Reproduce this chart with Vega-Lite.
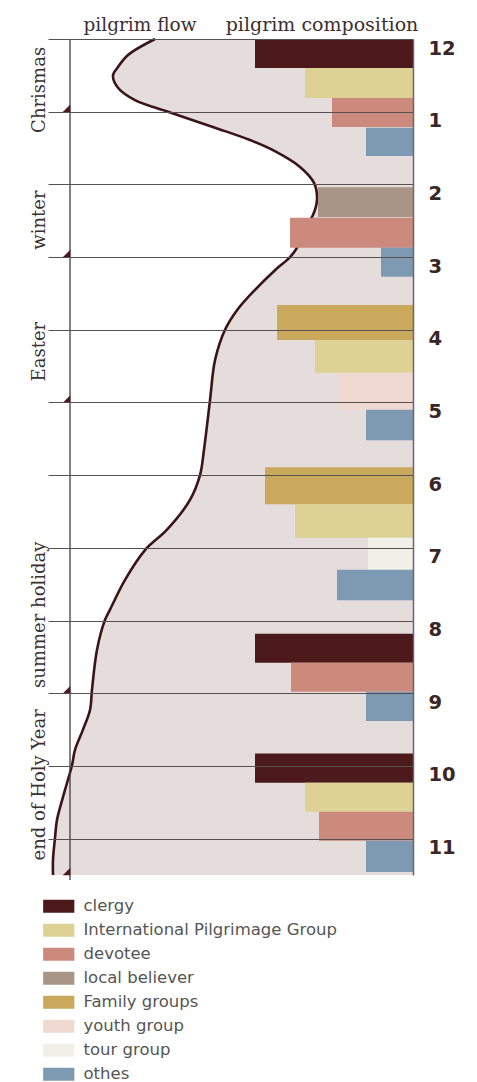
{
  "$schema": "https://vega.github.io/schema/vega-lite/v6.json",
  "width": 365,
  "height": 836,
  "autosize": {"type": "none"},
  "padding": {"left": 48, "top": 39, "right": 64, "bottom": 207},
  "background": "white",
  "config": {"view": {"stroke": null}},
  "datasets": {
    "flow": [
      {"month": 0, "flow": 258}, {"month": 0.22, "flow": 285}, {"month": 0.385, "flow": 295},
      {"month": 0.5, "flow": 300}, {"month": 0.67, "flow": 295}, {"month": 0.84, "flow": 278},
      {"month": 1.0, "flow": 245}, {"month": 1.22, "flow": 198}, {"month": 1.39, "flow": 163},
      {"month": 1.53, "flow": 140}, {"month": 1.76, "flow": 113}, {"month": 1.98, "flow": 99},
      {"month": 2.21, "flow": 96}, {"month": 2.42, "flow": 100}, {"month": 2.63, "flow": 110},
      {"month": 2.87, "flow": 116}, {"month": 3.0, "flow": 123}, {"month": 3.18, "flow": 138},
      {"month": 3.45, "flow": 158}, {"month": 3.73, "flow": 176}, {"month": 4.0, "flow": 188},
      {"month": 4.42, "flow": 198}, {"month": 4.97, "flow": 203}, {"month": 5.65, "flow": 209},
      {"month": 6.0, "flow": 213}, {"month": 6.34, "flow": 223}, {"month": 6.75, "flow": 246},
      {"month": 7.03, "flow": 268}, {"month": 7.44, "flow": 288}, {"month": 7.85, "flow": 303},
      {"month": 7.99, "flow": 308}, {"month": 8.4, "flow": 316}, {"month": 8.95, "flow": 321},
      {"month": 9.23, "flow": 323}, {"month": 9.5, "flow": 330}, {"month": 9.78, "flow": 338},
      {"month": 9.99, "flow": 341}, {"month": 10.33, "flow": 348}, {"month": 10.74, "flow": 356},
      {"month": 10.99, "flow": 358}, {"month": 11.29, "flow": 360}, {"month": 11.5, "flow": 360}
    ],
    "bars": [
      {"group": "clergy", "from": 0.0, "to": 0.40, "value": 158},
      {"group": "International Pilgrimage Group", "from": 0.40, "to": 0.81, "value": 108},
      {"group": "devotee", "from": 0.81, "to": 1.21, "value": 81},
      {"group": "othes", "from": 1.22, "to": 1.61, "value": 47},
      {"group": "local believer", "from": 2.04, "to": 2.45, "value": 95},
      {"group": "devotee", "from": 2.46, "to": 2.87, "value": 123},
      {"group": "othes", "from": 2.87, "to": 3.27, "value": 32},
      {"group": "Family groups", "from": 3.66, "to": 4.14, "value": 136},
      {"group": "International Pilgrimage Group", "from": 4.14, "to": 4.59, "value": 98},
      {"group": "youth group", "from": 4.59, "to": 5.10, "value": 73},
      {"group": "othes", "from": 5.10, "to": 5.52, "value": 47},
      {"group": "Family groups", "from": 5.89, "to": 6.40, "value": 148},
      {"group": "International Pilgrimage Group", "from": 6.40, "to": 6.86, "value": 118},
      {"group": "tour group", "from": 6.86, "to": 7.30, "value": 45},
      {"group": "othes", "from": 7.30, "to": 7.72, "value": 76},
      {"group": "clergy", "from": 8.18, "to": 8.58, "value": 158},
      {"group": "devotee", "from": 8.58, "to": 8.98, "value": 122},
      {"group": "othes", "from": 8.98, "to": 9.38, "value": 47},
      {"group": "clergy", "from": 9.83, "to": 10.23, "value": 158},
      {"group": "International Pilgrimage Group", "from": 10.23, "to": 10.63, "value": 108},
      {"group": "devotee", "from": 10.63, "to": 11.03, "value": 94},
      {"group": "othes", "from": 11.03, "to": 11.46, "value": 47}
    ],
    "seasons": [
      {"season": "Chrismas", "mid": 0.70, "end": 1},
      {"season": "winter", "mid": 2.49, "end": 3},
      {"season": "Easter", "mid": 4.3, "end": 5},
      {"season": "summer holiday", "mid": 7.92, "end": 9},
      {"season": "end of Holy Year", "mid": 10.26, "end": 11.5}
    ],
    "titles": [
      {"title": "pilgrim flow", "section": "flow"},
      {"title": "pilgrim composition", "section": "composition"}
    ]
  },
  "layer": [
    {
      "data": {"name": "flow"},
      "mark": {"type": "area", "orient": "horizontal", "interpolate": "catmull-rom", "color": "#e4dddc", "opacity": 1},
      "encoding": {
        "y": {
          "field": "month", "type": "quantitative",
          "scale": {"domain": [0, 11.5], "reverse": true, "nice": false, "zero": false},
          "axis": {
            "orient": "right", "title": null, "values": [0, 1, 2, 3, 4, 5, 6, 7, 8, 9, 10, 11],
            "labelExpr": "datum.value == 0 ? '12' : datum.value",
            "grid": true, "gridColor": "#575050", "gridWidth": 1, "gridOpacity": 1,
            "zindex": 1, "domain": true, "domainColor": "#6e6666", "domainWidth": 1.5,
            "ticks": false, "labelPadding": 15, "labelOffset": 9, "labelAlign": "left",
            "labelBaseline": "middle",
            "labelFont": "DejaVu Sans", "labelFontWeight": "bold", "labelFontSize": 19.5,
            "labelColor": "#3a2626"
          }
        },
        "x": {
          "field": "flow", "type": "quantitative", "stack": null,
          "scale": {"domain": [0, 365], "reverse": true, "nice": false, "zero": true},
          "axis": null
        }
      }
    },
    {
      "data": {"name": "flow"},
      "mark": {"type": "line", "orient": "horizontal", "interpolate": "catmull-rom", "color": "#3a1418", "strokeWidth": 2.6},
      "encoding": {
        "y": {"field": "month", "type": "quantitative"},
        "x": {"field": "flow", "type": "quantitative"},
        "order": {"field": "month", "type": "quantitative"}
      }
    },
    {
      "data": {"values": [{}]},
      "mark": {"type": "rule", "color": "#4a3a3a", "strokeWidth": 1.3},
      "encoding": {"x": {"datum": 343}, "y": {"datum": 0}, "y2": {"datum": 11.57}}
    },
    {
      "data": {"name": "bars"},
      "mark": {"type": "rect", "opacity": 1},
      "encoding": {
        "y": {"field": "from", "type": "quantitative"},
        "y2": {"field": "to"},
        "x": {"field": "value", "type": "quantitative"},
        "x2": {"datum": 0},
        "color": {
          "field": "group", "type": "nominal",
          "scale": {
            "domain": ["clergy", "International Pilgrimage Group", "devotee", "local believer", "Family groups", "youth group", "tour group", "othes"],
            "range": ["#4d1a1c", "#ddd193", "#cc8a7d", "#a99585", "#caa85c", "#efd9d1", "#f1f0e8", "#7e9ab3"]
          },
          "legend": {
            "orient": "none", "legendX": 2.5, "legendY": 859, "title": null,
            "symbolType": "M-2.4,-1H2.4V1H-2.4Z", "symbolSize": 169, "symbolStrokeWidth": 0,
            "symbolOpacity": 1, "labelFont": "DejaVu Sans", "labelFontSize": 16.5,
            "labelColor": "#555555", "labelOffset": 16.5, "labelLimit": 400, "rowPadding": 7, "padding": 0,
            "direction": "vertical"
          }
        }
      }
    },
    {
      "data": {"name": "seasons"},
      "mark": {"type": "point", "shape": "M-1,1L1,1L1,-1Z", "filled": true, "size": 56, "color": "#4a1a20", "opacity": 1, "yOffset": -3.5},
      "encoding": {
        "y": {"field": "end", "type": "quantitative"},
        "x": {"datum": 346.5}
      }
    },
    {
      "data": {"name": "seasons"},
      "mark": {"type": "text", "angle": 270, "align": "center", "baseline": "middle", "font": "DejaVu Serif", "fontSize": 18, "color": "#3b3030"},
      "encoding": {
        "y": {"field": "mid", "type": "quantitative"},
        "x": {"datum": 373},
        "text": {"field": "season"}
      }
    },
    {
      "data": {"name": "titles"},
      "transform": [{"filter": "datum.section == 'flow'"}],
      "mark": {"type": "text", "align": "center", "baseline": "alphabetic", "font": "DejaVu Serif", "fontSize": 18.5, "color": "#3b3030"},
      "encoding": {"x": {"datum": 273}, "y": {"datum": -0.11}, "text": {"field": "title"}}
    },
    {
      "data": {"name": "titles"},
      "transform": [{"filter": "datum.section == 'composition'"}],
      "mark": {"type": "text", "align": "center", "baseline": "alphabetic", "font": "DejaVu Serif", "fontSize": 19, "color": "#3b3030"},
      "encoding": {"x": {"datum": 91}, "y": {"datum": -0.11}, "text": {"field": "title"}}
    }
  ]
}
